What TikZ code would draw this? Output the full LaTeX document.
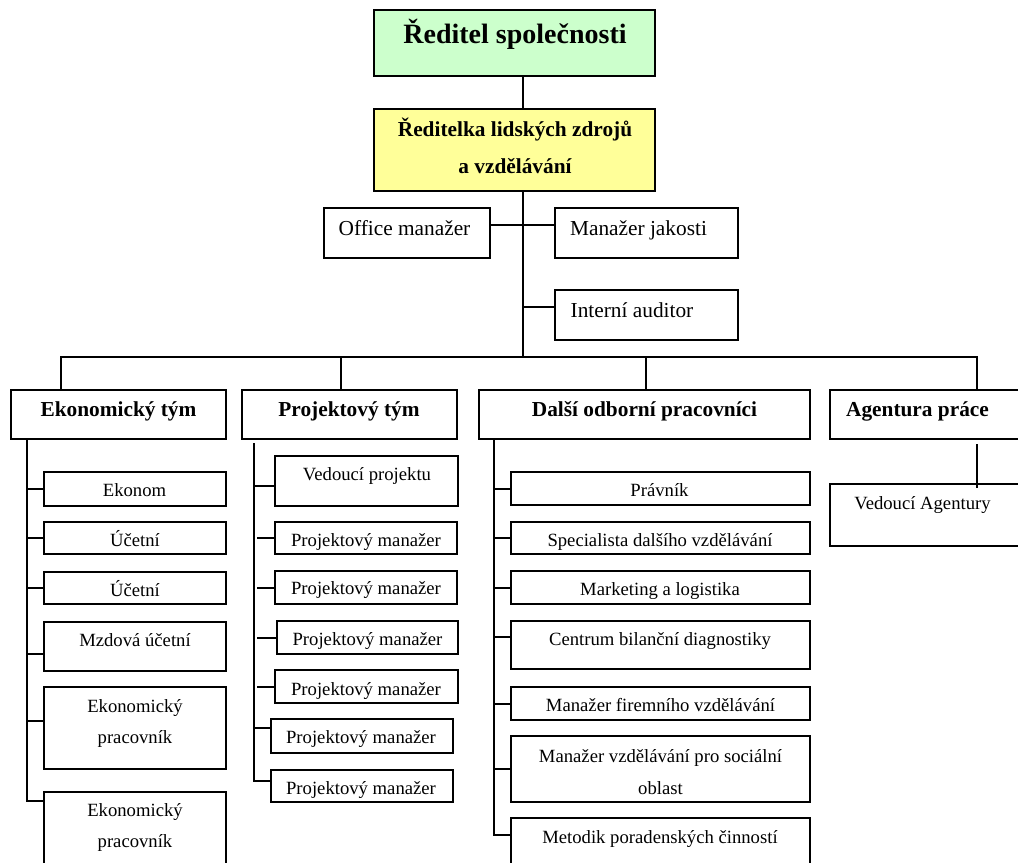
\documentclass[tikz,border=0pt]{standalone}
\usepackage{fontspec}
\setmainfont{Liberation Serif}
\usetikzlibrary{fit,calc}
\definecolor{ceogreen}{HTML}{CCFFCC}
\definecolor{hryellow}{HTML}{FFFF99}
\tikzset{
  unit/.style={draw=black, line width=1.5pt, inner sep=0pt},
  wire/.style={draw=black, line width=1.5pt},
  twoline/.style={inner sep=0pt, align=center},
  item/.style={inner sep=0pt, text height=9.8pt, text depth=0.7pt, font=\fontsize{14}{23.6}\selectfont},
  itemtwo/.style={twoline, font=\fontsize{14}{23.6}\selectfont},
  staff/.style={inner sep=0pt, text height=11.2pt, text depth=0.8pt, font=\fontsize{16}{20}\selectfont},
  head/.style={inner sep=0pt, text height=11.2pt, text depth=0.8pt, font=\fontsize{16}{20}\selectfont\bfseries},
  chief/.style={inner sep=0pt, text height=14.7pt, text depth=1pt, font=\fontsize{21}{25}\selectfont\bfseries},
  hrtext/.style={twoline, font=\fontsize{16}{27.75}\selectfont\bfseries}
}
\newcommand\orgbox[6]{\node[unit,#6,fit={(#2,#3)(#4,#5)}] (#1) {};}
\begin{document}
\begin{tikzpicture}[x=0.75pt,y=-0.75pt]
\useasboundingbox (0,0) rectangle (1018,863);
\clip (0,0) rectangle (1018,863);

% ---- management ----
\orgbox{ceo}{374}{10}{655}{76}{fill=ceogreen}
\orgbox{hr}{374}{109}{655}{191}{fill=hryellow}
\orgbox{om}{324}{208}{490}{258}{}
\orgbox{mj}{555}{208}{738}{258}{}
\orgbox{ia}{555}{290}{738}{340}{}
\node[chief] (ceo-t) at (515,34) {Ředitel společnosti};
\node[hrtext] (hr-t) at (515,146) {Ředitelka lidských zdrojů\\a vzdělávání};
\node[staff] (om-t) at (404.5,229) {Office manažer};
\node[staff] (mj-t) at (638.5,229) {Manažer jakosti};
\node[staff] (ia-t) at (632,311) {Interní auditor};

% ---- team heads ----
\orgbox{ek}{11}{390}{226}{439}{}
\orgbox{pt}{242}{390}{457}{439}{}
\orgbox{dop}{479}{390}{810}{439}{}
\orgbox{ap}{830}{390}{1030}{439}{}
\node[head] (ek-t) at (118.5,410) {Ekonomický tým};
\node[head] (pt-t) at (349,410) {Projektový tým};
\node[head] (dop-t) at (644.5,410) {Další odborní pracovníci};
\node[head] (ap-t) at (917.5,410) {Agentura práce};

% ---- economic team ----
\orgbox{ek1}{44}{472}{226}{506}{}
\orgbox{ek2}{44}{522}{226}{554}{}
\orgbox{ek3}{44}{572}{226}{604}{}
\orgbox{ek4}{44}{622}{226}{671}{}
\orgbox{ek5}{44}{687}{226}{769}{}
\orgbox{ek6}{44}{792}{226}{890}{}
\node[item] (ek1-t) at (134.5,490.5) {Ekonom};
\node[item] (ek2-t) at (135,540) {Účetní};
\node[item] (ek3-t) at (135,590) {Účetní};
\node[item] (ek4-t) at (135,640) {Mzdová účetní};
\node[itemtwo] (ek5-t) at (135,723.5) {Ekonomický\\pracovník};
\node[itemtwo] (ek6-t) at (135,827.7) {Ekonomický\\pracovník};

% ---- project team ----
\orgbox{pt1}{275}{456}{458}{506}{}
\orgbox{pt2}{275}{522}{457}{554}{}
\orgbox{pt3}{275}{571}{457}{604}{}
\orgbox{pt4}{277}{621}{458}{654}{}
\orgbox{pt5}{275}{670}{458}{703}{}
\orgbox{pt6}{271}{719}{453}{753}{}
\orgbox{pt7}{271}{770}{453}{802}{}
\node[item] (pt1-t) at (367,474.7) {Vedoucí projektu};
\node[item] (pt2-t) at (366,540) {Projektový manažer};
\node[item] (pt3-t) at (366,588.5) {Projektový manažer};
\node[item] (pt4-t) at (367.5,639) {Projektový manažer};
\node[item] (pt5-t) at (366,689) {Projektový manažer};
\node[item] (pt6-t) at (361,737) {Projektový manažer};
\node[item] (pt7-t) at (361,788) {Projektový manažer};

% ---- other specialists ----
\orgbox{do1}{511}{472}{810}{505}{}
\orgbox{do2}{511}{522}{810}{554}{}
\orgbox{do3}{511}{571}{810}{604}{}
\orgbox{do4}{511}{621}{810}{669}{}
\orgbox{do5}{511}{687}{810}{720}{}
\orgbox{do6}{511}{736}{810}{802}{}
\orgbox{do7}{511}{818}{810}{890}{}
\node[item] (do1-t) at (659.5,490.7) {Právník};
\node[item] (do2-t) at (660,540) {Specialista dalšího vzdělávání};
\node[item] (do3-t) at (660,589) {Marketing a logistika};
\node[item] (do4-t) at (660,639) {Centrum bilanční diagnostiky};
\node[item] (do5-t) at (660.5,705) {Manažer firemního vzdělávání};
\node[itemtwo] (do6-t) at (660.5,772) {Manažer vzdělávání pro sociální\\oblast};
\node[item] (do7-t) at (660,837.3) {Metodik poradenských činností};

% ---- work agency ----
\orgbox{ap1}{830}{484}{1030}{546}{}
\node[item] (ap1-t) at (922.5,503.3) {Vedoucí Agentury};

% ---- connectors: management ----
\coordinate (trunk) at (523,357);
\draw[wire] (ceo.south -| trunk) -- (hr.north -| trunk);
\draw[wire] (hr.south -| trunk) -- (trunk);
\coordinate (omjoin) at ($(om.east)+(0,-8)$);
\draw[wire] (omjoin) -- (omjoin -| mj.west);
\coordinate (iajoin) at ($(ia.west)+(0,-8)$);
\draw[wire] (iajoin -| trunk) -- (iajoin);

% ---- connectors: bus to team heads ----
\coordinate (ekdrop) at (61,357);
\coordinate (ptdrop) at (341,357);
\coordinate (dopdrop) at (646,357);
\coordinate (apdrop) at (977,357);
\draw[wire] (ek.north -| ekdrop) |- (apdrop) -- (apdrop |- ap.north);
\draw[wire] (ptdrop) -- (ptdrop |- pt.north);
\draw[wire] (dopdrop) -- (dopdrop |- dop.north);

% ---- connectors: economic team ----
\coordinate (ekrail) at ($(ek.south west)+(17,0)$);
\coordinate (ek4s) at ($(ek4.west)+(0,7.5)$);
\coordinate (ek5s) at ($(ek5.west)+(0,-7)$);
\coordinate (ek6s) at ($(ek6.north west)+(0,10)$);
\draw[wire] (ekrail) |- (ek6s);
\draw[wire] (ekrail |- ek1.west) -- (ek1.west);
\draw[wire] (ekrail |- ek2.west) -- (ek2.west);
\draw[wire] (ekrail |- ek3.west) -- (ek3.west);
\draw[wire] (ekrail |- ek4s) -- (ek4s);
\draw[wire] (ekrail |- ek5s) -- (ek5s);

% ---- connectors: project team ----
\coordinate (ptrail) at ($(pt.south west)+(13,3)$);
\coordinate (pt1s) at ($(pt1.west)+(0,5)$);
\coordinate (pt6s) at ($(pt6.west)+(0,-8)$);
\coordinate (pt7s) at ($(pt7.west)+(0,-5)$);
\draw[wire] (ptrail) |- (pt7s);
\draw[wire] (ptrail |- pt1s) -- (pt1s);
\draw[wire] (ptrail |- pt6s) -- (pt6s);
\draw[wire] (pt2.west) -- ++(-17,0);
\draw[wire] (pt3.west) -- ++(-17,0);
\draw[wire] (pt4.west) -- ++(-19,0);
\draw[wire] (pt5.west) -- ++(-17,0);

% ---- connectors: other specialists ----
\coordinate (dorail) at ($(dop.south west)+(16,0)$);
\coordinate (do4s) at ($(do4.west)+(0,-8)$);
\coordinate (do7s) at ($(do7.north west)+(0,18)$);
\draw[wire] (dorail) |- (do7s);
\draw[wire] (dorail |- do1.west) -- (do1.west);
\draw[wire] (dorail |- do2.west) -- (do2.west);
\draw[wire] (dorail |- do3.west) -- (do3.west);
\draw[wire] (dorail |- do4s) -- (do4s);
\draw[wire] (dorail |- do5.west) -- (do5.west);
\draw[wire] (dorail |- do6.west) -- (do6.west);

% ---- connector: work agency ----
\draw[wire] ($(apdrop |- ap.south)+(0,4)$) -- ($(apdrop |- ap1.north)+(0,5)$);
\end{tikzpicture}
\end{document}
